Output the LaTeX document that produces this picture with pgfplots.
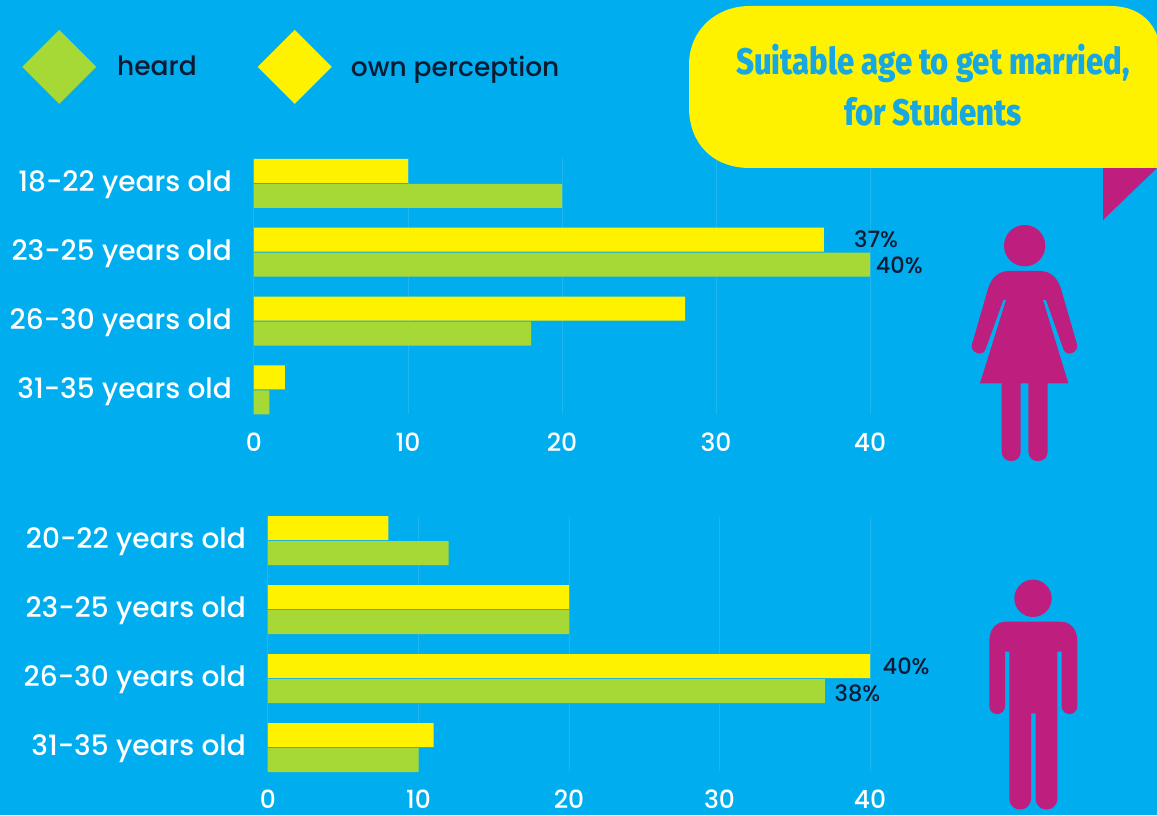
\documentclass[border=0pt]{standalone}
\usepackage{fontspec}
\setmainfont{Poppins}[UprightFont=* Medium]
\newfontfamily\headfont{Fira Sans}[UprightFont=* ExtraBold]
\usepackage{pgfplots}
\pgfplotsset{compat=1.18}
\definecolor{sky}{HTML}{00AEEF}
\definecolor{gridblue}{HTML}{1FB6F0}
\definecolor{ownyellow}{HTML}{FFF200}
\definecolor{heardgreen}{HTML}{A6D936}
\definecolor{plum}{HTML}{BE1E7E}
\definecolor{inkdark}{HTML}{0B1B33}
\definecolor{headblue}{HTML}{17A8E2}

\pgfplotsset{
  agechart/.style={
    scale only axis, y dir=reverse, xbar, clip=false,
    xmin=0, xmax=42,
    axis line style={draw=none},
    major tick length=0pt,
    xtick={0,10,20,30,40}, ytick={0,1,2,3},
    xmajorgrids, grid style={gridblue, line width=1pt},
    /pgf/number format/assume math mode=true,
    ticklabel style={white},
    xticklabel style={font=\fontsize{25}{30}\selectfont, yshift=-28.5pt, inner sep=0pt, anchor=center},
    yticklabel style={font=\fontsize{28}{30}\selectfont, inner sep=0pt, xshift=-22pt, yshift=-1.5pt, anchor=east},
  },
  ownbar/.style={fill=ownyellow, draw=none, bar width=24pt, bar shift=12.5pt},
  heardbar/.style={fill=heardgreen, draw=none, bar width=24pt, bar shift=-12.5pt},
}
\tikzset{value/.style={anchor=center, inner sep=0pt, text=inkdark, font=\fontsize{22.5}{26}\selectfont}}

\begin{document}
\begin{tikzpicture}[x=1pt,y=1pt]
\useasboundingbox (0,0) rectangle (1157,815);
\fill[sky] (0,0) rectangle (1157,815);

% Women
\begin{axis}[agechart,
  at={(254pt,657pt)}, anchor=north west,
  width=646.8pt, height=255.9pt,
  ymin=-0.37, ymax=3.35,
  yticklabels={18-22 years old,23-25 years old,26-30 years old,31-35 years old},
  legend columns=2,
  legend image code/.code={\path[#1, draw=none] (0pt,0pt) -- (37pt,37pt) -- (74pt,0pt) -- (37pt,-37pt) -- cycle;},
  legend style={at={(axis description cs:-0.3587,1.356)}, anchor=west, draw=none, fill=none, inner sep=0pt,
    font=\fontsize{26.5}{30}\selectfont, text=inkdark,
    /tikz/column 1/.style={column sep=19pt},
    /tikz/column 2/.style={column sep=59pt},
    /tikz/column 3/.style={column sep=17pt},
    legend cell align=left},
]
\addplot[heardbar] coordinates {(20,0) (40,1) (18,2) (1,3)};
\addplot[ownbar] coordinates {(10,0) (37,1) (28,2) (2,3)};
\legend{heard,own perception}
\node[value] at (axis cs:40.4,0.81) {37\%};
\node[value] at (axis cs:41.9,1.19) {40\%};
\end{axis}

% Men
\begin{axis}[agechart,
  at={(268pt,298pt)}, anchor=north west,
  width=632.1pt, height=254pt,
  ymin=-0.341, ymax=3.34,
  yticklabels={20-22 years old,23-25 years old,26-30 years old,31-35 years old},
]
\addplot[heardbar] coordinates {(12,0) (20,1) (37,2) (10,3)};
\addplot[ownbar] coordinates {(8,0) (20,1) (40,2) (11,3)};
\node[value] at (axis cs:42.4,1.82) {40\%};
\node[value] at (axis cs:39.17,2.22) {38\%};
\end{axis}

% Speech bubble with its tail
\fill[plum] (1103,647) -- (1157,647) -- (1103,595) -- cycle;
\fill[ownyellow] (1157,647) -- (750,647)
  .. controls (712,647) and (689,672) .. (689,708)
  -- (689,750)
  .. controls (689,785) and (716,809) .. (750,809)
  -- (1110,809)
  .. controls (1135,809) and (1150,797) .. (1157,780) -- cycle;
\node[text=headblue, font=\headfont\fontsize{37}{44}\selectfont, inner sep=0pt] at (933,752)
  {\scalebox{0.84}[1]{Suitable age to get married,}};
\node[text=headblue, font=\headfont\fontsize{37}{44}\selectfont, inner sep=0pt] at (933,703)
  {\scalebox{0.84}[1]{for Students}};

% Woman pictogram
\begin{scope}[shift={(950,600)}, x=0.3333pt, y=-0.3333pt]
  \fill[plum] (224,92) circle[radius=62*0.3333pt];
  \fill[plum] (175,168) -- (272,168)
    .. controls (305,170) and (322,190) .. (332,218)
    -- (381,388)
    .. controls (388,410) and (350,430) .. (340,402)
    -- (288,255) -- (279,255)
    -- (355,505) -- (293,505) -- (293,710)
    .. controls (293,748) and (235,748) .. (235,710)
    -- (235,505) -- (212,505) -- (212,710)
    .. controls (212,748) and (155,748) .. (155,710)
    -- (155,505) -- (90,505) -- (168,255) -- (160,255)
    -- (107,402)
    .. controls (97,430) and (58,410) .. (66,388)
    -- (115,218)
    .. controls (125,190) and (142,170) .. (175,168) -- cycle;
\end{scope}

% Man pictogram
\begin{scope}[shift={(960,245)}, x=0.3333pt, y=-0.3333pt]
  \fill[plum] (219,85) circle[radius=56*0.3333pt];
  \fill[plum] (140,155) -- (300,155)
    .. controls (335,155) and (352,180) .. (352,215)
    -- (352,408)
    .. controls (352,440) and (305,440) .. (305,408)
    -- (305,245) -- (292,245) -- (292,685)
    .. controls (292,730) and (227,730) .. (227,685)
    -- (227,430) -- (213,430) -- (213,685)
    .. controls (213,730) and (148,730) .. (148,685)
    -- (148,245) -- (135,245) -- (135,408)
    .. controls (135,440) and (88,440) .. (88,408)
    -- (88,215)
    .. controls (88,180) and (105,155) .. (140,155) -- cycle;
\end{scope}
\end{tikzpicture}
\end{document}
